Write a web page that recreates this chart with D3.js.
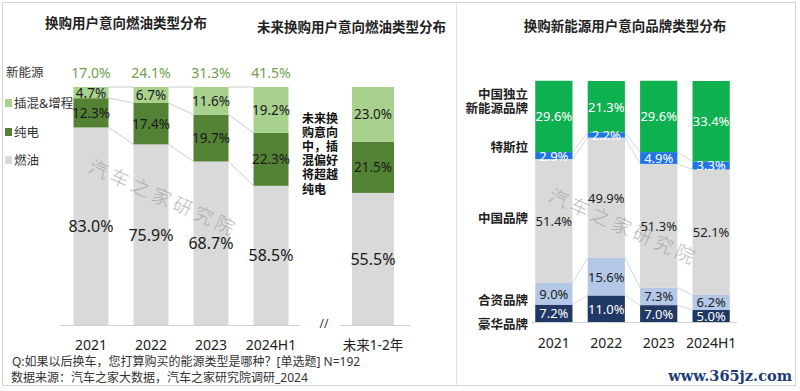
<!DOCTYPE html>
<html><head><meta charset="utf-8">
<script src="https://cdn.jsdelivr.net/npm/d3@7/dist/d3.min.js"></script>
<style>
html,body{margin:0;padding:0;background:#fff;}
svg{display:block;font-family:"Noto Sans","Noto Sans CJK SC",sans-serif;}
</style></head>
<body><svg id="c" width="800" height="391"></svg>
<script>
// ---- data ----
const years = ["2021", "2022", "2023", "2024H1"];
const fuelGas = [83.0, 75.9, 68.7, 58.5];
const fuelBev = [12.3, 17.4, 19.7, 22.3];
const fuelPhev = [4.7, 6.7, 11.6, 19.2];
const newEnergyTotal = [17.0, 24.1, 31.3, 41.5];
const futureCat = ["未来1-2年"];
const futureGas = [55.5];
const futureBev = [21.5];
const futurePhev = [23.0];
const brandLuxury = [7.2, 11.0, 7.0, 5.0];
const brandJV = [9.0, 15.6, 7.3, 6.2];
const brandChina = [51.4, 49.9, 51.3, 52.1];
const brandTesla = [2.9, 2.2, 4.9, 3.3];
const brandNewChina = [29.6, 21.3, 29.6, 33.4];
const fuelSeries = ["燃油", "纯电", "插混&增程"];
const brandSeries = ["豪华品牌", "合资品牌", "中国品牌", "特斯拉", "中国独立新能源品牌"];

const svg = d3.select("#c");
const fmt = v => v.toFixed(1) + "%";

// frame
svg.append("rect").attr("x", 2.5).attr("y", 2.5).attr("width", 793).attr("height", 383)
  .attr("fill", "none").attr("stroke", "#d4d4d4");
svg.append("line").attr("x1", 456.5).attr("x2", 456.5).attr("y1", 3).attr("y2", 385)
  .attr("stroke", "#e2e2e2");

// ---------- left chart ----------
const fuelColors = ["#d9d9d9", "#548235", "#a9d18e"];
const xL = d3.scaleBand().domain(years).range([61, 301]).paddingInner(0.417).paddingOuter(0.208);
const xF = d3.scaleBand().domain(futureCat).range([331, 415]).paddingInner(0.5).paddingOuter(0.25);
const yL = d3.scaleLinear().domain([0, 100]).range([325, 87]);

const fuelRows = years.map((y, i) => ({cat: y, "燃油": fuelGas[i], "纯电": fuelBev[i], "插混&增程": fuelPhev[i]}));
const futureRows = futureCat.map((y, i) => ({cat: y, "燃油": futureGas[i], "纯电": futureBev[i], "插混&增程": futurePhev[i]}));
const stackF = d3.stack().keys(fuelSeries);
const fStack = stackF(fuelRows);
const futStack = stackF(futureRows);

const gL = svg.append("g");
// connectors
fStack.forEach(s => {
  for (let i = 0; i < s.length - 1; i++) {
    gL.append("line")
      .attr("x1", xL(years[i]) + xL.bandwidth()).attr("y1", yL(s[i][1]))
      .attr("x2", xL(years[i + 1])).attr("y2", yL(s[i + 1][1]))
      .attr("stroke", "#bfbfbf").attr("stroke-width", 0.8);
  }
});
fStack.forEach((s, k) => {
  gL.selectAll(null).data(s).enter().append("rect")
    .attr("x", d => xL(d.data.cat)).attr("width", xL.bandwidth())
    .attr("y", d => yL(d[1])).attr("height", d => yL(d[0]) - yL(d[1]))
    .attr("fill", fuelColors[k]);
});
futStack.forEach((s, k) => {
  gL.selectAll(null).data(s).enter().append("rect")
    .attr("x", d => xF(d.data.cat)).attr("width", xF.bandwidth())
    .attr("y", d => yL(d[1])).attr("height", d => yL(d[0]) - yL(d[1]))
    .attr("fill", fuelColors[k]);
});
// baselines
gL.append("line").attr("x1", 60).attr("x2", 300).attr("y1", 325.5).attr("y2", 325.5).attr("stroke", "#d0d0d0");
gL.append("line").attr("x1", 340).attr("x2", 410).attr("y1", 325.5).attr("y2", 325.5).attr("stroke", "#d0d0d0");
gL.append("text").attr("x", 324).attr("y", 323).attr("text-anchor", "middle").attr("dominant-baseline", "central")
  .attr("font-size", 12).attr("fill", "#333").text("//");
// legend
gL.append("text").attr("x", 6).attr("y", 72).attr("dominant-baseline", "central")
  .attr("font-size", 12.5).attr("fill", "#333").text("新能源");
const legY = [160, 132, 103];
fuelSeries.forEach((s, k) => {
  gL.append("rect").attr("x", 5).attr("y", legY[k] - 4).attr("width", 7).attr("height", 8).attr("fill", fuelColors[k]);
  gL.append("text").attr("x", 14).attr("y", legY[k]).attr("dominant-baseline", "central")
    .attr("font-size", 12.5).attr("fill", "#333").text(s);
});

// watermark (left)
function wm(parent, x, y) {
  parent.append("text").attr("transform", `translate(${x},${y}) rotate(24)`)
    .attr("font-size", 19).attr("letter-spacing", 4).attr("fill", "#8f8f8f").attr("opacity", 0.6)
    .attr("font-weight", 300)
    .attr("dominant-baseline", "central").text("汽车之家研究院");
}
wm(gL, 90, 165);

// labels
function fuelLabels(stack, x) {
  stack.forEach((s, k) => {
    gL.selectAll(null).data(s).enter().append("text")
      .attr("x", d => x(d.data.cat) + x.bandwidth() / 2)
      .attr("y", d => (yL(d[0]) + yL(d[1])) / 2)
      .attr("text-anchor", "middle").attr("dominant-baseline", "central")
      .attr("font-size", k === 0 ? 16 : 13.5).attr("fill", "#1a1a1a")
      .text(d => fmt(d[1] - d[0]));
  });
}
fuelLabels(fStack, xL);
fuelLabels(futStack, xF);
// x axis labels
const axL = d3.axisBottom(xL).tickSize(0).tickPadding(0);
gL.append("g").attr("transform", "translate(0,345)").call(axL)
  .call(g => g.select(".domain").remove())
  .selectAll("text").attr("font-size", 14).attr("fill", "#222").attr("dy", "0.35em")
  .attr("font-family", "Noto Sans, Noto Sans CJK SC");
const axF = d3.axisBottom(xF).tickSize(0).tickPadding(0);
gL.append("g").attr("transform", "translate(0,345)").call(axF)
  .call(g => g.select(".domain").remove())
  .selectAll("text").attr("font-size", 13.5).attr("fill", "#222").attr("dy", "0.35em")
  .attr("font-family", "Noto Sans, Noto Sans CJK SC");
// new energy totals
gL.selectAll(null).data(years).enter().append("text")
  .attr("x", d => xL(d) + xL.bandwidth() / 2).attr("y", 72)
  .attr("text-anchor", "middle").attr("dominant-baseline", "central")
  .attr("font-size", 14).attr("fill", "#70a04c")
  .text((d, i) => fmt(newEnergyTotal[i]));
// titles
svg.append("text").attr("x", 126).attr("y", 23).attr("text-anchor", "middle").attr("dominant-baseline", "central")
  .attr("font-size", 13.5).attr("font-weight", "bold").attr("fill", "#222").text("换购用户意向燃油类型分布");
svg.append("text").attr("x", 257).attr("y", 27).attr("dominant-baseline", "central")
  .attr("font-size", 13.5).attr("font-weight", "bold").attr("fill", "#222").text("未来换购用户意向燃油类型分布");
// annotation
const note = ["未来换", "购意向", "中，插", "混偏好", "将超越", "纯电"];
note.forEach((t, i) => svg.append("text").attr("x", 302).attr("y", 118 + i * 14.2)
  .attr("dominant-baseline", "central").attr("font-size", 12).attr("font-weight", "bold").attr("fill", "#111").text(t));
// footnotes
svg.append("text").attr("x", 12).attr("y", 361).attr("dominant-baseline", "central")
  .attr("font-size", 12).attr("fill", "#333").text("Q:如果以后换车，您打算购买的能源类型是哪种？[单选题] N=192");
svg.append("text").attr("x", 11).attr("y", 377).attr("dominant-baseline", "central")
  .attr("font-size", 12).attr("fill", "#333").text("数据来源：汽车之家大数据，汽车之家研究院调研_2024");

// ---------- right chart ----------
const brandColors = ["#203864", "#b4c7e7", "#d9d9d9", "#1f74e6", "#0fb050"];
const brandText = ["#fff", "#222", "#222", "#fff", "#fff"];
const xR = d3.scaleBand().domain(years).range([530, 735]).paddingInner(0.29).paddingOuter(0.1);
const yR = d3.scaleLinear().domain([0, 100]).range([322, 81]);
const brandRows = years.map((y, i) => ({cat: y, "豪华品牌": brandLuxury[i], "合资品牌": brandJV[i],
  "中国品牌": brandChina[i], "特斯拉": brandTesla[i], "中国独立新能源品牌": brandNewChina[i]}));
const bStack = d3.stack().keys(brandSeries)(brandRows);
const gR = svg.append("g");
bStack.slice(0, 4).forEach(s => {
  for (let i = 0; i < s.length - 1; i++) {
    gR.append("line")
      .attr("x1", xR(years[i]) + xR.bandwidth()).attr("y1", yR(s[i][1]))
      .attr("x2", xR(years[i + 1])).attr("y2", yR(s[i + 1][1]))
      .attr("stroke", "#c5cdd9").attr("stroke-width", 0.8);
  }
});
bStack.forEach((s, k) => {
  gR.selectAll(null).data(s).enter().append("rect")
    .attr("x", d => xR(d.data.cat)).attr("width", xR.bandwidth())
    .attr("y", d => yR(d[1])).attr("height", d => yR(d[0]) - yR(d[1]))
    .attr("fill", brandColors[k]);
});
wm(gR, 550, 194);
bStack.forEach((s, k) => {
  gR.selectAll(null).data(s).enter().append("text")
    .attr("x", d => xR(d.data.cat) + xR.bandwidth() / 2)
    .attr("y", d => (yR(d[0]) + yR(d[1])) / 2)
    .attr("text-anchor", "middle").attr("dominant-baseline", "central")
    .attr("font-size", 13).attr("fill", brandText[k])
    .text(d => fmt(d[1] - d[0]));
});
gR.append("line").attr("x1", 532).attr("x2", 737).attr("y1", 322.5).attr("y2", 322.5).attr("stroke", "#d0d0d0");
const axR = d3.axisBottom(xR).tickSize(0).tickPadding(0);
gR.append("g").attr("transform", "translate(0,343)").call(axR)
  .call(g => g.select(".domain").remove())
  .selectAll("text").attr("font-size", 14).attr("fill", "#222").attr("dy", "0.35em")
  .attr("font-family", "Noto Sans, Noto Sans CJK SC");
// right legend labels
const rLab = [["豪华品牌", 324], ["合资品牌", 300], ["中国品牌", 218], ["特斯拉", 147], ["中国独立", 94], ["新能源品牌", 108]];
rLab.forEach(([t, y]) => gR.append("text").attr("x", 528).attr("y", y).attr("text-anchor", "end")
  .attr("dominant-baseline", "central").attr("font-size", 12.5).attr("font-weight", "bold").attr("fill", "#222").text(t));
svg.append("text").attr("x", 625).attr("y", 26).attr("text-anchor", "middle").attr("dominant-baseline", "central")
  .attr("font-size", 13.5).attr("font-weight", "bold").attr("fill", "#222").text("换购新能源用户意向品牌类型分布");

svg.append("text").attr("x", 792).attr("y", 375).attr("text-anchor", "end").attr("dominant-baseline", "central")
  .attr("font-family", "DejaVu Serif, Liberation Serif, serif").attr("font-size", 14.5).attr("font-weight", "bold")
  .attr("fill", "#1d3c78").text("www.365jz.com");
</script></body></html>
